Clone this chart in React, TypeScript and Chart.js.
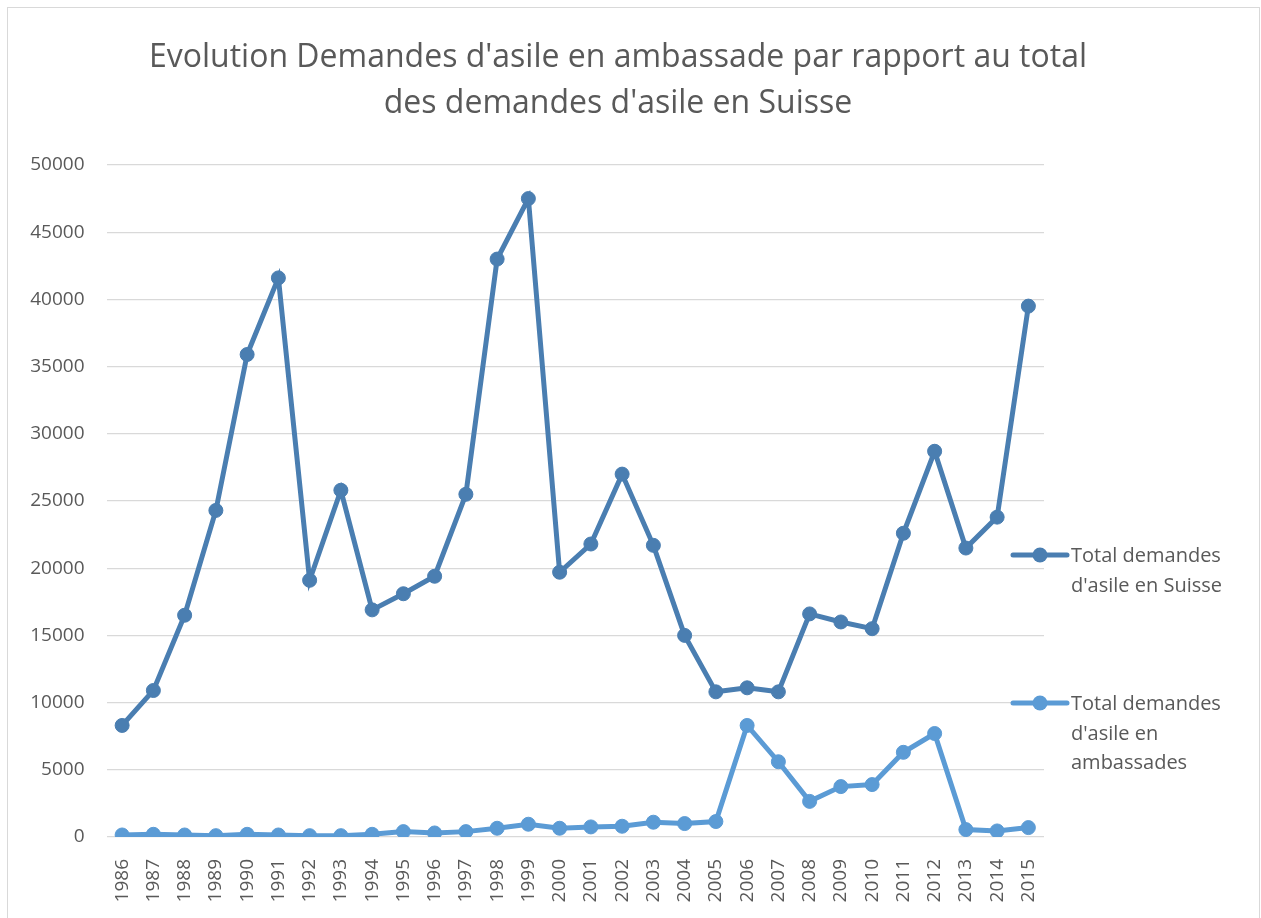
import React, { useEffect, useRef } from "react";
import { Chart, registerables } from "chart.js";

Chart.register(...registerables);

const years = [
  "1986", "1987", "1988", "1989", "1990", "1991", "1992", "1993", "1994", "1995",
  "1996", "1997", "1998", "1999", "2000", "2001", "2002", "2003", "2004", "2005",
  "2006", "2007", "2008", "2009", "2010", "2011", "2012", "2013", "2014", "2015",
];

const totalSuisse = [
  8300, 10900, 16500, 24300, 35900, 41600, 19100, 25800, 16900, 18100,
  19400, 25500, 43000, 47500, 19700, 21800, 27000, 21700, 15000, 10800,
  11100, 10800, 16600, 16000, 15500, 22600, 28700, 21500, 23800, 39500,
];

const totalAmbassades = [
  150, 200, 150, 100, 200, 150, 100, 100, 200, 400,
  300, 400, 650, 950, 650, 750, 800, 1100, 1000, 1150,
  8300, 5600, 2650, 3750, 3900, 6300, 7700, 550, 450, 700,
];

const titleLines = [
  "Evolution Demandes d'asile en ambassade par rapport au total",
  "des demandes d'asile en Suisse",
];

const legendLabels = [
  ["Total demandes", "d'asile en Suisse"],
  ["Total demandes", "d'asile en", "ambassades"],
];

const seriesColors = ["#4a7eb1", "#5b9bd5"];

const FONT = "'Open Sans', 'Noto Sans', sans-serif";
const TEXT_COLOR = "#595959";

const decorPlugin = {
  id: "decor",
  beforeDraw(chart: any) {
    const ctx = chart.ctx;
    ctx.save();
    ctx.fillStyle = "#ffffff";
    ctx.fillRect(0, 0, chart.width, chart.height);
    ctx.strokeStyle = "#d9d9d9";
    ctx.lineWidth = 1;
    ctx.strokeRect(7.5, 7.5, 1252, 930);
    ctx.restore();
  },
  afterDraw(chart: any) {
    const ctx = chart.ctx;
    ctx.save();
    // title
    ctx.fillStyle = TEXT_COLOR;
    ctx.font = `32px ${FONT}`;
    ctx.textAlign = "center";
    ctx.textBaseline = "alphabetic";
    ctx.fillText(titleLines[0], 618, 67);
    ctx.fillText(titleLines[1], 618, 113);
    // legend
    const itemY = [555, 703];
    ctx.font = `20px ${FONT}`;
    ctx.textAlign = "left";
    legendLabels.forEach((lines, i) => {
      const y = itemY[i];
      ctx.strokeStyle = seriesColors[i];
      ctx.lineWidth = 5;
      ctx.lineCap = "round";
      ctx.beginPath();
      ctx.moveTo(1013, y);
      ctx.lineTo(1067, y);
      ctx.stroke();
      ctx.fillStyle = seriesColors[i];
      ctx.beginPath();
      ctx.arc(1040, y, 7.5, 0, Math.PI * 2);
      ctx.fill();
      ctx.fillStyle = TEXT_COLOR;
      lines.forEach((t, j) => {
        ctx.fillText(t, 1071, y + 7 + j * 29.5);
      });
    });
    ctx.restore();
  },
};

export default function App() {
  const canvasRef = useRef<HTMLCanvasElement | null>(null);

  useEffect(() => {
    document.body.style.margin = "0";
    const canvas = canvasRef.current;
    if (!canvas) return;
    const makeDs = (label: string, data: number[], color: string) => ({
      label,
      data,
      borderColor: color,
      backgroundColor: color,
      borderWidth: 5,
      pointRadius: 7,
      pointBorderWidth: 1,
      pointBackgroundColor: color,
      pointBorderColor: color,
      tension: 0,
    });
    const chart = new Chart(canvas, {
      type: "line",
      data: {
        labels: years,
        datasets: [
          makeDs("Total demandes d'asile en Suisse", totalSuisse, seriesColors[0]),
          makeDs("Total demandes d'asile en ambassades", totalAmbassades, seriesColors[1]),
        ],
      },
      options: {
        responsive: false,
        animation: false,
        layout: { padding: { left: 0, right: 217, top: 165, bottom: 0 } },
        plugins: {
          legend: { display: false },
          title: { display: false },
          tooltip: { enabled: false },
        },
        scales: {
          x: {
            offset: true,
            grid: { display: false },
            border: { display: false },
            ticks: {
              color: TEXT_COLOR,
              font: { family: FONT, size: 19 },
              minRotation: 90,
              maxRotation: 90,
              padding: 14,
              autoSkip: false,
            },
            afterFit(scale: any) {
              scale.height = 81;
            },
          },
          y: {
            min: 0,
            max: 50000,
            grid: { color: "#d9d9d9", lineWidth: 1.3, drawTicks: false },
            border: { display: false },
            ticks: {
              stepSize: 5000,
              color: TEXT_COLOR,
              font: { family: FONT, size: 19 },
              padding: 22,
              callback: (v: any) => String(v),
            },
            afterFit(scale: any) {
              scale.width = 106.5;
            },
          },
        },
      },
      plugins: [decorPlugin],
    });
    return () => chart.destroy();
  }, []);

  return (
    <div style={{ width: 1261, height: 918 }}>
      <canvas ref={canvasRef} width={1261} height={918} />
    </div>
  );
}
